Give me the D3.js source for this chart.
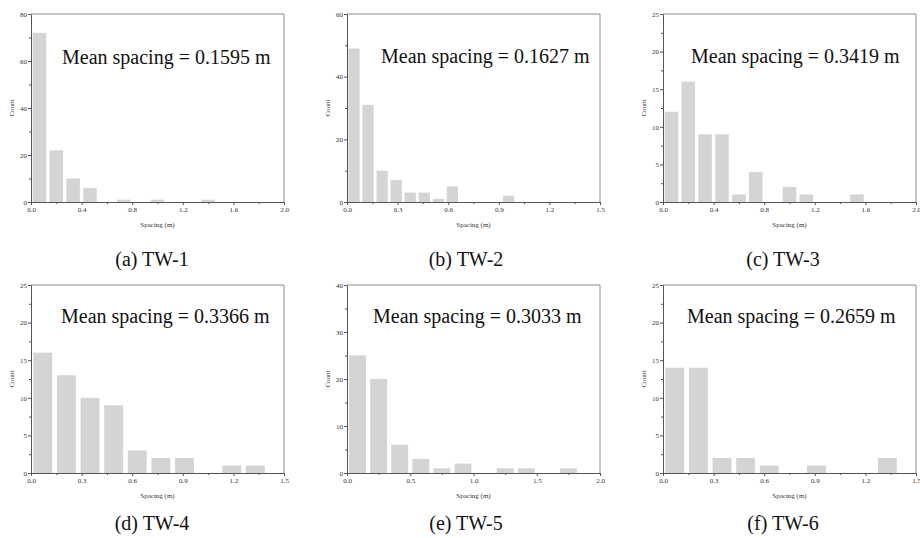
<!DOCTYPE html>
<html>
<head>
<meta charset="utf-8">
<script src="https://cdn.jsdelivr.net/npm/d3@7"></script>
<style>
  body { margin: 0; background: #fff; }
  svg { display: block; }
  text { font-family: "Liberation Serif", "Times New Roman", serif; }
</style>
</head>
<body>
<div id="chart"></div>
<script>
// Data
var panelNames = ["(a) TW-1", "(b) TW-2", "(c) TW-3", "(d) TW-4", "(e) TW-5", "(f) TW-6"];
var meanSpacing = ["0.1595", "0.1627", "0.3419", "0.3366", "0.3033", "0.2659"];
var binWidths = [0.1333, 0.0833, 0.1333, 0.14, 0.1667, 0.14];

var countsTW1 = [72, 22, 10, 6, 0, 1, 0, 1, 0, 0, 1];
var countsTW2 = [49, 31, 10, 7, 3, 3, 1, 5, 0, 0, 0, 2];
var countsTW3 = [12, 16, 9, 9, 1, 4, 0, 2, 1, 0, 0, 1];
var countsTW4 = [16, 13, 10, 9, 3, 2, 2, 0, 1, 1];
var countsTW5 = [25, 20, 6, 3, 1, 2, 0, 1, 1, 0, 1];
var countsTW6 = [14, 14, 2, 2, 1, 0, 1, 0, 0, 2];
var allCounts = [countsTW1, countsTW2, countsTW3, countsTW4, countsTW5, countsTW6];

// axis ranges and tick steps
var xMax = [2.0, 1.5, 2.0, 1.5, 2.0, 1.5];
var xStep = [0.4, 0.3, 0.4, 0.3, 0.5, 0.3];
var yMax = [80, 60, 25, 25, 40, 25];
var yStep = [20, 20, 5, 5, 10, 5];

// Layout
var svgWidth = 920;
var svgHeight = 538;
var colLeft = [31, 347, 663];
var rowTop = [14, 285];
var plotW = 253;
var plotH = 188;
var captionX = [152, 466, 783];
var captionY = [266, 530];
var meanDx = [31, 34, 28, 30, 26, 24];
var meanDy = [50, 49, 49, 38, 38, 38];

var svg = d3.select("#chart")
    .append("svg")
    .attr("width", svgWidth)
    .attr("height", svgHeight);

function range(step, max) {
    var out = [];
    var n = Math.round(max / step);
    for (var i = 0; i <= n; i++) out.push(+(i * step).toFixed(4));
    return out;
}

allCounts.forEach(function(counts, p) {
    var col = p % 3;
    var row = Math.floor(p / 3);

    var g = svg.append("g")
        .attr("transform", `translate(${colLeft[col]}, ${rowTop[row]})`);

    var x = d3.scaleLinear().domain([0, xMax[p]]).range([0, plotW]);
    var y = d3.scaleLinear().domain([0, yMax[p]]).range([plotH, 0]);

    // bars
    var bw = binWidths[p];
    g.selectAll("rect.bar")
        .data(counts)
        .enter()
        .append("rect")
        .attr("class", "bar")
        .attr("x", (d, i) => x(i * bw + bw * 0.1))
        .attr("width", (d, i) => x(bw * 0.8))
        .attr("y", d => y(d))
        .attr("height", d => plotH - y(d))
        .attr("fill", "#d4d4d4");

    // frame (top + right)
    g.append("path")
        .attr("d", `M0,0H${plotW}V${plotH}`)
        .attr("fill", "none")
        .attr("stroke", "#8c8c8c")
        .attr("stroke-width", 1);

    var xMajor = range(xStep[p], xMax[p]);
    var yMajor = range(yStep[p], yMax[p]);
    var xMinor = xMajor.slice(0, -1).map(v => +(v + xStep[p] / 2).toFixed(4));
    var yMinor = yMajor.slice(0, -1).map(v => +(v + yStep[p] / 2).toFixed(4));

    // minor ticks
    g.append("g")
        .attr("transform", `translate(0, ${plotH})`)
        .call(d3.axisBottom(x).tickValues(xMinor).tickSize(2).tickFormat(""))
        .call(a => a.select(".domain").remove());
    g.append("g")
        .call(d3.axisLeft(y).tickValues(yMinor).tickSize(2).tickFormat(""))
        .call(a => a.select(".domain").remove());

    // major axes
    var bottomAxis = d3.axisBottom(x)
        .tickValues(xMajor)
        .tickSize(3)
        .tickSizeOuter(0)
        .tickPadding(2)
        .tickFormat(d3.format(".1f"));
    var leftAxis = d3.axisLeft(y)
        .tickValues(yMajor)
        .tickSize(3)
        .tickSizeOuter(0)
        .tickPadding(1)
        .tickFormat(d3.format("d"));

    g.append("g")
        .attr("transform", `translate(0, ${plotH})`)
        .call(bottomAxis);
    g.append("g")
        .call(leftAxis);

    g.selectAll(".tick line").attr("stroke", "#555");
    g.selectAll(".domain").attr("stroke", "#555");
    g.selectAll(".tick text")
        .attr("font-family", "Liberation Serif, serif")
        .attr("font-size", 7)
        .attr("fill", "#333");

    // axis titles
    g.append("text")
        .attr("x", plotW / 2)
        .attr("y", plotH + 25)
        .attr("text-anchor", "middle")
        .attr("font-size", 7)
        .attr("fill", "#333")
        .text("Spacing (m)");

    g.append("text")
        .attr("transform", `translate(-17, ${plotH / 2}) rotate(-90)`)
        .attr("text-anchor", "middle")
        .attr("font-size", 7)
        .attr("fill", "#333")
        .text("Count");

    // mean annotation
    g.append("text")
        .attr("x", meanDx[p])
        .attr("y", meanDy[p])
        .attr("font-size", 20)
        .attr("fill", "#111")
        .text(`Mean spacing = ${meanSpacing[p]} m`);

    // caption under each panel
    svg.append("text")
        .attr("x", captionX[col])
        .attr("y", captionY[row])
        .attr("text-anchor", "middle")
        .attr("font-size", 20)
        .attr("fill", "#111")
        .text(panelNames[p]);
});
</script>
</body>
</html>
